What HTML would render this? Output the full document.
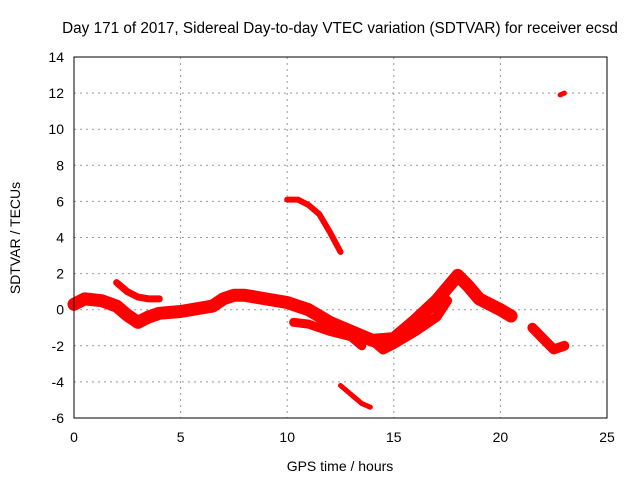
<!DOCTYPE html>
<html><head><meta charset="utf-8"><style>
body{margin:0;background:#fff}
svg{font-family:"Liberation Sans",sans-serif;font-size:14px}
</style></head><body>
<svg width="640" height="480" xmlns="http://www.w3.org/2000/svg">
<g id="grid"></g>
<g id="marks"></g>
<rect x="74" y="57" width="533" height="361" fill="none" stroke="#000"/>
<g id="ticks"></g>
<text x="340" y="33" text-anchor="middle" style="font-size:15.3px">Day 171 of 2017, Sidereal Day-to-day VTEC variation (SDTVAR) for receiver ecsd</text>
<text x="340" y="471" text-anchor="middle">GPS time / hours</text>
<text transform="translate(20,238) rotate(-90)" text-anchor="middle">SDTVAR / TECUs</text>
</svg>
<script>
const xTicks=[0,5,10,15,20,25];
const yTicks=[-6,-4,-2,0,2,4,6,8,10,12,14];
const mainBand=[[0,0.3],[0.5,0.6],[1.3,0.5],[2,0.2],[2.5,-0.3],[3,-0.7],[3.5,-0.4],[4,-0.2],[5,-0.1],[6,0.1],[6.5,0.2],[7,0.6],[7.5,0.8],[8,0.8],[9,0.6],[10,0.4],[11,0.0],[12,-0.7],[13,-1.2],[14,-1.7],[15,-1.6],[16,-0.6],[17,0.5],[18,1.9],[18.5,1.3],[19,0.6],[20,0],[20.5,-0.35]];
const upperBranch=[[2,1.5],[2.5,1.0],[3,0.7],[3.5,0.6],[4,0.6]];
const midBand=[[10.3,-0.7],[11,-0.8],[12,-1.2],[13,-1.5],[13.5,-2.0]];
const lowBand=[[14,-1.7],[14.5,-2.2],[15,-1.9],[16,-1.2],[17,-0.4],[17.5,0.5]];
const arc=[[10,6.1],[10.5,6.1],[11,5.8],[11.5,5.3],[12,4.3],[12.5,3.2]];
const lowArc=[[12.5,-4.2],[13,-4.7],[13.5,-5.2],[13.9,-5.4]];
const rightGroup=[[21.5,-1.0],[22,-1.6],[22.5,-2.2],[23,-2.0]];
const topGroup=[[22.8,11.9],[23,12.0]];
const X=v=>74+v*533/25, Y=v=>418-(v+6)*361/20;
const NS="http://www.w3.org/2000/svg";
function mk(t,a,p){const e=document.createElementNS(NS,t);for(const k in a)e.setAttribute(k,a[k]);p.appendChild(e);return e;}
const grid=document.getElementById('grid'),ticks=document.getElementById('ticks'),marks=document.getElementById('marks');
xTicks.forEach(t=>{
 if(t>0&&t<25){const l=mk('line',{x1:X(t),x2:X(t),y1:57,y2:418,stroke:'#999','stroke-dasharray':'2,4'},grid);
 }
 const tx=mk('text',{x:X(t),y:442,'text-anchor':'middle'},ticks);tx.textContent=t;
 
});
yTicks.forEach(t=>{
 if(t>-6&&t<14){const l=mk('line',{x1:74,x2:607,y1:Y(t),y2:Y(t),stroke:'#999','stroke-dasharray':'2,4'},grid);
 }
 const tx=mk('text',{x:64,y:Y(t)+5,'text-anchor':'end'},ticks);tx.textContent=t;
 
});
function band(pts,w,name){
 const p=mk('polyline',{points:pts.map(d=>X(d[0])+','+Y(d[1])).join(' '),fill:'none',stroke:'#f00','stroke-width':w,'stroke-linejoin':'round','stroke-linecap':'round'},marks);
 
}
band(mainBand,13,'main-band');
band(upperBranch,7,'upper-branch');
band(midBand,9,'mid-band');
band(lowBand,10,'low-band');
band(arc,6,'arc-series');
band(lowArc,5,'low-arc-series');
band(rightGroup,10,'right-group');
band(topGroup,5,'top-group');
</script>
</body></html>
